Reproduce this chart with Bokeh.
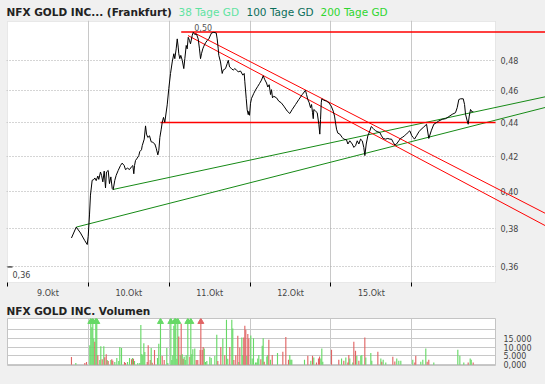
from bokeh.plotting import figure
from bokeh.layouts import column
from bokeh.models import (Range1d, FixedTicker, CustomJSTickFormatter, Label, ColumnDataSource,
                          BoxAnnotation)
from bokeh.core.properties import value
from bokeh.embed import file_html
from bokeh.resources import INLINE

# ---------------- data ----------------
day_labels = ["9.Okt", "10.Okt", "11.Okt", "12.Okt", "15.Okt"]
price_ticks = [0.36, 0.38, 0.40, 0.42, 0.44, 0.46, 0.48]
price_tick_labels = ["0,36", "0,38", "0,40", "0,42", "0,44", "0,46", "0,48"]
vol_ticks = [0, 5000, 10000, 15000, 20000]
vol_tick_labels = ["0,000", "5.000", "10.000", "15.000", ""]

price_t = [
    0.791, 0.850, 0.903, 0.956, 0.986, 0.998, 1.014, 1.026, 1.047, 1.067,
    1.080, 1.097, 1.117, 1.129, 1.150, 1.163, 1.179, 1.196, 1.212, 1.224,
    1.245, 1.261, 1.278, 1.295, 1.307, 1.327, 1.344, 1.369, 1.397, 1.418,
    1.443, 1.459, 1.484, 1.509, 1.530, 1.550, 1.562, 1.571, 1.583, 1.604,
    1.624, 1.636, 1.657, 1.666, 1.691, 1.707, 1.719, 1.735, 1.756, 1.777,
    1.797, 1.822, 1.839, 1.859, 1.871, 1.884, 1.901, 1.913, 1.929, 1.945,
    1.975, 1.995, 2.016, 2.037, 2.057, 2.069, 2.086, 2.099, 2.111, 2.118,
    2.131, 2.143, 2.161, 2.180, 2.193, 2.210, 2.222, 2.235, 2.251, 2.263,
    2.284, 2.297, 2.316, 2.337, 2.358, 2.374, 2.387, 2.399, 2.415, 2.428,
    2.449, 2.470, 2.490, 2.511, 2.523, 2.551, 2.581, 2.593, 2.606, 2.613,
    2.634, 2.655, 2.667, 2.696, 2.717, 2.730, 2.746, 2.770, 2.791, 2.811,
    2.832, 2.853, 2.882, 2.910, 2.927, 2.935, 2.952, 2.964, 2.977, 2.984,
    2.993, 3.005, 3.018, 3.046, 3.067, 3.092, 3.117, 3.141, 3.162, 3.182,
    3.203, 3.219, 3.236, 3.253, 3.265, 3.277, 3.293, 3.327, 3.355, 3.385,
    3.417, 3.459, 3.491, 3.521, 3.562, 3.602, 3.645, 3.685, 3.698, 3.714,
    3.731, 3.747, 3.760, 3.772, 3.781, 3.788, 3.809, 3.830, 3.850, 3.862,
    3.871, 3.880, 3.887, 3.912, 3.945, 3.974, 4.003, 4.028, 4.044, 4.056,
    4.069, 4.085, 4.110, 4.139, 4.159, 4.192, 4.209, 4.233, 4.263, 4.283,
    4.304, 4.325, 4.345, 4.366, 4.387, 4.406, 4.419, 4.436, 4.456, 4.481,
    4.498, 4.523, 4.551, 4.580, 4.604, 4.625, 4.646, 4.675, 4.703, 4.728,
    4.749, 4.770, 4.790, 4.811, 4.839, 4.860, 4.881, 4.910, 4.943, 4.975,
    5.000, 5.017, 5.033, 5.058, 5.087, 5.116, 5.141, 5.182, 5.210, 5.240,
    5.272, 5.305, 5.334, 5.376, 5.417, 5.458, 5.500, 5.540, 5.561, 5.581,
    5.602, 5.636, 5.652, 5.664, 5.685, 5.697, 5.710, 5.726, 5.747, 5.759,
]
price_v = [
    0.3748, 0.3805, 0.3774, 0.3734, 0.3714, 0.3757, 0.3870, 0.3978, 0.4061, 0.4065,
    0.4074, 0.4059, 0.4085, 0.4066, 0.4108, 0.4089, 0.4052, 0.4113, 0.4018, 0.4108,
    0.4117, 0.4042, 0.4080, 0.4015, 0.4009, 0.4061, 0.4089, 0.4117, 0.4145, 0.4159,
    0.4145, 0.4122, 0.4130, 0.4122, 0.4136, 0.4145, 0.4098, 0.4145, 0.4174, 0.4188,
    0.4203, 0.4226, 0.4237, 0.4261, 0.4300, 0.4380, 0.4330, 0.4310, 0.4320, 0.4284,
    0.4281, 0.4271, 0.4246, 0.4207, 0.4232, 0.4310, 0.4360, 0.4400, 0.4432, 0.4402,
    0.4510, 0.4614, 0.4711, 0.4787, 0.4842, 0.4809, 0.4875, 0.4943, 0.4887, 0.4842,
    0.4809, 0.4831, 0.4798, 0.4743, 0.4809, 0.4898, 0.4875, 0.4954, 0.4932, 0.4909,
    0.4966, 0.4988, 0.4973, 0.4977, 0.4943, 0.4875, 0.4809, 0.4842, 0.4875, 0.4893,
    0.4916, 0.4932, 0.4943, 0.4970, 0.4984, 0.4988, 0.4984, 0.4943, 0.4875, 0.4831,
    0.4787, 0.4711, 0.4733, 0.4743, 0.4776, 0.4798, 0.4754, 0.4743, 0.4733, 0.4743,
    0.4733, 0.4722, 0.4727, 0.4700, 0.4711, 0.4657, 0.4551, 0.4479, 0.4449, 0.4469,
    0.4445, 0.4520, 0.4551, 0.4583, 0.4604, 0.4625, 0.4646, 0.4668, 0.4696, 0.4670,
    0.4649, 0.4623, 0.4638, 0.4575, 0.4606, 0.4554, 0.4564, 0.4554, 0.4533, 0.4523,
    0.4502, 0.4471, 0.4456, 0.4481, 0.4512, 0.4543, 0.4575, 0.4602, 0.4575, 0.4543,
    0.4523, 0.4492, 0.4512, 0.4461, 0.4424, 0.4481, 0.4471, 0.4461, 0.4390, 0.4330,
    0.4420, 0.4523, 0.4548, 0.4539, 0.4533, 0.4523, 0.4502, 0.4471, 0.4440, 0.4400,
    0.4360, 0.4336, 0.4330, 0.4310, 0.4300, 0.4296, 0.4271, 0.4290, 0.4271, 0.4251,
    0.4261, 0.4290, 0.4271, 0.4300, 0.4290, 0.4251, 0.4203, 0.4271, 0.4320, 0.4350,
    0.4376, 0.4364, 0.4350, 0.4344, 0.4340, 0.4320, 0.4304, 0.4300, 0.4304, 0.4300,
    0.4300, 0.4281, 0.4265, 0.4271, 0.4290, 0.4304, 0.4310, 0.4320, 0.4336, 0.4350,
    0.4320, 0.4310, 0.4300, 0.4320, 0.4344, 0.4360, 0.4370, 0.4390, 0.4304, 0.4350,
    0.4390, 0.4400, 0.4410, 0.4420, 0.4424, 0.4437, 0.4451, 0.4461, 0.4492, 0.4543,
    0.4548, 0.4548, 0.4512, 0.4451, 0.4410, 0.4390, 0.4440, 0.4481, 0.4465, 0.4471,
]

# high / low markers
high_t, high_v = 2.297, 0.4988
low_mark_t, low_mark_v = 0.062, 0.36

# drawn support / resistance / trend lines: (t0, t1), (v0, v1)
res_high_t, res_high_v = [2.148, 6.653], [0.4990, 0.4990]
sup_h_t, sup_h_v = [1.892, 6.035], [0.4400, 0.4400]
red_up_t, red_up_v = [2.297, 6.653], [0.4988, 0.3878]
red_lo_t, red_lo_v = [2.232, 6.653], [0.4966, 0.3812]
grn_lo_t, grn_lo_v = [0.850, 6.653], [0.3805, 0.4494]
grn_up_t, grn_up_v = [1.302, 6.653], [0.4009, 0.4561]

vol_t = [
    0.791, 0.845, 0.956, 0.977, 1.018, 1.030, 1.043, 1.055, 1.067, 1.080,
    1.092, 1.104, 1.117, 1.141, 1.154, 1.171, 1.191, 1.203, 1.221, 1.233,
    1.245, 1.278, 1.290, 1.302, 1.327, 1.352, 1.376, 1.389, 1.410, 1.447,
    1.459, 1.484, 1.509, 1.534, 1.546, 1.558, 1.571, 1.611, 1.636, 1.649,
    1.661, 1.673, 1.686, 1.698, 1.728, 1.740, 1.765, 1.777, 1.790, 1.818,
    1.855, 1.871, 1.892, 1.913, 1.938, 1.970, 1.982, 2.020, 2.032, 2.044,
    2.057, 2.069, 2.081, 2.094, 2.106, 2.118, 2.136, 2.148, 2.161, 2.173,
    2.185, 2.198, 2.210, 2.230, 2.255, 2.267, 2.279, 2.292, 2.316, 2.334,
    2.353, 2.383, 2.391, 2.408, 2.420, 2.433, 2.449, 2.465, 2.502, 2.519,
    2.564, 2.588, 2.601, 2.638, 2.663, 2.687, 2.708, 2.724, 2.749, 2.774,
    2.786, 2.799, 2.823, 2.848, 2.861, 2.873, 2.898, 2.910, 2.922, 2.935,
    2.947, 2.959, 2.972, 2.984, 3.009, 3.026, 3.042, 3.067, 3.083, 3.095,
    3.108, 3.133, 3.150, 3.162, 3.175, 3.207, 3.219, 3.232, 3.252, 3.274,
    3.339, 3.405, 3.442, 3.475, 3.491, 3.504, 3.516, 3.673, 3.714, 3.751,
    3.772, 3.788, 3.821, 3.846, 3.859, 3.875, 3.887, 3.899, 4.007, 4.097,
    4.131, 4.159, 4.184, 4.209, 4.221, 4.233, 4.270, 4.283, 4.304, 4.320,
    4.345, 4.369, 4.382, 4.419, 4.431, 4.493, 4.505, 4.580, 4.617, 4.629,
    4.646, 4.678, 4.765, 4.790, 4.814, 4.839, 4.864, 5.012, 5.037, 5.049,
    5.111, 5.136, 5.173, 5.190, 5.210, 5.272, 5.569, 5.594, 5.643, 5.697,
    5.722, 5.735, 5.759,
]
vol_v = [
    4370, 950, 950, 1520, 11020, 30000, 21090, 30000, 14820, 12920,
    30000, 30000, 5320, 2660, 10450, 3040, 10450, 4180, 5890, 2660,
    2090, 2660, 3040, 2280, 1520, 3800, 2090, 10070, 9500, 1520,
    950, 1520, 3800, 3040, 3800, 3420, 2090, 950, 950, 22420,
    6080, 5320, 12160, 7220, 1520, 11020, 2660, 9500, 1140, 8360,
    3800, 11780, 30000, 4940, 2660, 9500, 950, 30000, 2660, 5320,
    22040, 30000, 30000, 3420, 30000, 15960, 5320, 23180, 5890, 3420,
    4560, 2660, 5320, 30000, 4560, 30000, 5890, 8740, 9120, 2660,
    2660, 8360, 30000, 8360, 10070, 9120, 1520, 2090, 4560, 3800,
    4940, 16910, 2090, 10070, 14820, 5320, 25460, 3420, 10070, 25460,
    20520, 2660, 5320, 16340, 1520, 9690, 15390, 5320, 15390, 22040,
    19760, 4940, 17290, 14820, 16440, 3520, 14920, 1240, 1240, 3520,
    5420, 3140, 10740, 14920, 1620, 4660, 5420, 14160, 2760, 5420,
    6560, 7320, 15680, 2760, 5420, 2760, 2760, 2760, 5040, 2190,
    5040, 4090, 1240, 3520, 4660, 3520, 9220, 1620, 8460, 2760,
    3520, 2190, 4090, 1240, 5420, 3520, 1240, 13020, 7890, 5040,
    2190, 5040, 5420, 15300, 4090, 6560, 2190, 7320, 3520, 1620,
    2760, 1240, 4470, 1810, 3520, 2190, 2190, 2760, 1240, 5040,
    1620, 2760, 9220, 1620, 2760, 1240, 8460, 5040, 1240, 1240,
    3520, 2760, 1240,
]
# g = price up (green), r = price down (red)
vol_dir = ("rgrrgggggr" "ggrggrgrrg" "rgrrgggggr" "rggrgrgggg" "ggggrrrgrr"
           "gggrrggggg" "gggggrgrgr" "ggggrggggr" "rrrrrggggg" "ggrrgrggrg"
           "grrrgrggrr" "rgrrgggggg" "grggrggrgr" "grrrggggrg" "rgrrrgggrr"
           "grgrrggrrg" "rggrgggrgr" "ggrrggggrr" "gggrrggggr" "ggr")

title_main = "NFX GOLD INC... (Frankfurt)"
title_ma = ["38 Tage GD", "100 Tage GD", "200 Tage GD"]
title_vol = "NFX GOLD INC. Volumen"

# ---------------- styling ----------------
FONT = "DejaVu Sans"
BG = "#f0f0f0"
FRAME = "#c4c4c4"
GRID = "#c8c8c8"
TXT = "#444444"
RED = "#ff0000"
GREEN = "#168a16"
UP_C = "#66d966"
DOWN_C = "#e06464"
MA_COLORS = ["#5fe3a1", "#0b6e5a", "#2fd62f"]
TITLE_SIZE = "10.5px"

W = 545
DAY_END = 6.035      # right edge of the plotting area (trading time)
VIEW_END = 6.653     # trend lines run on into the right margin up to here
Y_LO, Y_HI = 0.3523, 0.5064


def header(height, parts):
    h = figure(width=W, height=height, x_range=Range1d(0, W), y_range=Range1d(height, 0),
               x_axis_location=None, y_axis_location=None, title=None,
               output_backend="svg", toolbar_location=None,
               min_border=0, outline_line_color=None,
               background_fill_color=BG, border_fill_color=BG)
    h.frame_align = False
    h.grid.visible = False
    for txt, xs, ys, col, style in parts:
        h.text(x=[xs], y=[ys], text=[txt], text_font=value(FONT), text_font_size=TITLE_SIZE,
               text_font_style=style, text_color=col, text_baseline="middle", text_align="left")
    return h


head1 = header(20, [(title_main, 6, 11, "#222222", "bold"),
                    (title_ma[0], 178, 11, MA_COLORS[0], "normal"),
                    (title_ma[1], 246, 11, MA_COLORS[1], "normal"),
                    (title_ma[2], 320, 11, MA_COLORS[2], "normal")])

# ---------------- main price chart ----------------
px_day = 80.86
x0 = -1 / px_day
y_hi_v = Y_HI * (1 + 1 / 727.5)
y_lo_v = Y_LO * (1 - 1 / 727.5)
p = figure(width=W, height=280, x_range=Range1d(x0, VIEW_END), y_range=Range1d(y_lo_v, y_hi_v),
           y_axis_type="log", y_axis_location=None, title=None,
           output_backend="svg", toolbar_location=None,
           min_border_left=6, min_border_right=0, min_border_top=0, min_border_bottom=14,
           border_fill_color=BG, background_fill_color=BG,
           outline_line_color=None)
p.frame_align = False

day_centers = [i + 0.5 for i in range(len(day_labels))]
day_bounds = list(range(len(day_labels) + 1))
p.xaxis.ticker = FixedTicker(ticks=day_centers, minor_ticks=day_bounds)
p.xaxis.formatter = CustomJSTickFormatter(args=dict(labels=day_labels),
                                          code="const i = Math.floor(tick); return labels[i] || '';")
p.xaxis.axis_line_color = None
p.xaxis.major_tick_in = 0
p.xaxis.major_tick_out = 0
p.xaxis.minor_tick_in = 1
p.xaxis.minor_tick_out = 3
p.xaxis.minor_tick_line_color = "black"
p.xaxis.major_label_standoff = 2
p.xaxis.major_label_text_font = FONT
p.xaxis.major_label_text_font_size = "8px"
p.xaxis.major_label_text_color = TXT

# white plotting area (below the grid)
p.add_layout(BoxAnnotation(left=0, right=DAY_END, bottom=Y_LO, top=Y_HI,
                           fill_color="white", fill_alpha=1.0, line_color=None, level="image"))
p.xgrid.ticker = FixedTicker(ticks=day_bounds[1:])
p.xgrid.grid_line_color = GRID
p.ygrid.ticker = FixedTicker(ticks=price_ticks)
p.ygrid.grid_line_color = "#aaaaaa"
p.ygrid.grid_line_dash = "1 2"
# grey margin right of the plotting area (covers the grid) + frame border
p.add_layout(BoxAnnotation(left=DAY_END, fill_color=BG, fill_alpha=1.0, line_color=None,
                           level="underlay"))
p.add_layout(BoxAnnotation(left=0, right=DAY_END, bottom=Y_LO, top=Y_HI,
                           fill_alpha=0.0, line_color=FRAME, line_width=1, level="underlay"))

# price-axis labels in the right margin
p.text(x=[DAY_END] * len(price_ticks), y=price_ticks, text=price_tick_labels,
       x_offset=5, text_font=value(FONT), text_font_size="8px", text_color=TXT,
       text_baseline="middle", text_align="left")

# lines
p.line(grn_lo_t, grn_lo_v, line_color=GREEN, line_width=1)
p.line(grn_up_t, grn_up_v, line_color=GREEN, line_width=1)
p.line(red_up_t, red_up_v, line_color=RED, line_width=1)
p.line(red_lo_t, red_lo_v, line_color=RED, line_width=1)
p.line(sup_h_t, sup_h_v, line_color=RED, line_width=1.5)
p.line(res_high_t, res_high_v, line_color=RED, line_width=1.5)
p.line(price_t, price_v, line_color="black", line_width=1)

# low mark at left
p.segment(x0=[0.0], y0=[low_mark_v], x1=[low_mark_t], y1=[low_mark_v], line_color="black", line_width=1)
p.add_layout(Label(x=low_mark_t, y=low_mark_v, text=f"{low_mark_v:.2f}".replace(".", ","),
                   text_font=FONT, text_font_size="8px", text_color=TXT,
                   text_baseline="top", text_align="left", y_offset=-4))
# high label
p.add_layout(Label(x=high_t, y=high_v, text=f"{high_v:.2f}".replace(".", ","),
                   text_font=FONT, text_font_size="8px", text_color="#555555",
                   text_baseline="bottom", text_align="left", x_offset=1, y_offset=1))

head2 = header(18, [(title_vol, 6, 10, "#222222", "bold")])

# ---------------- volume chart ----------------
vol_top = 26100
p2 = figure(width=W, height=66, x_range=Range1d(0, DAY_END), y_range=Range1d(-450, vol_top),
            y_axis_location="right", x_axis_location=None, title=None,
            output_backend="svg", toolbar_location=None,
            min_border_left=7, min_border_right=50, min_border_top=0, min_border_bottom=19,
            border_fill_color=BG, background_fill_color="white",
            outline_line_color=FRAME)
p2.frame_align = False

colors = [UP_C if c == "g" else DOWN_C for c in vol_dir]
src = ColumnDataSource(dict(t=vol_t, v=vol_v, c=colors))
p2.vbar(x="t", top="v", bottom=0, width=0.014, fill_color="c", line_color=None, source=src)

clip_t = [t for t, v in zip(vol_t, vol_v) if v > vol_top]
clip_c = [c for c, v in zip(colors, vol_v) if v > vol_top]
p2.scatter(x=clip_t, y=[vol_top * 0.93] * len(clip_t), marker="triangle", size=6,
           fill_color=clip_c, line_color=clip_c)

p2.yaxis.ticker = FixedTicker(ticks=vol_ticks)
p2.yaxis.major_label_overrides = dict(zip(vol_ticks, vol_tick_labels))
p2.yaxis.axis_line_color = None
p2.yaxis.major_tick_in = 0
p2.yaxis.major_tick_out = 0
p2.yaxis.minor_tick_in = 0
p2.yaxis.minor_tick_out = 0
p2.yaxis.major_label_standoff = 8
p2.yaxis.major_label_text_font = FONT
p2.yaxis.major_label_text_font_size = "8px"
p2.yaxis.major_label_text_color = TXT
p2.ygrid.grid_line_color = GRID
p2.xgrid.ticker = FixedTicker(ticks=day_bounds[1:])
p2.xgrid.grid_line_color = GRID

layout = column(head1, p, head2, p2, spacing=0, styles={"background-color": BG})
open("out.html", "w").write(file_html(layout, INLINE))
